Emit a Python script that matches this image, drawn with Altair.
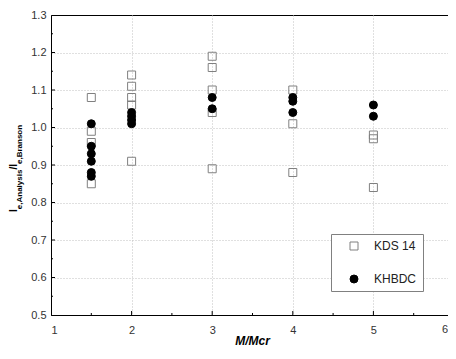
import altair as alt
import pandas as pd

# ---- data ----
kds_x = [1.5, 1.5, 1.5, 1.5,
         2, 2, 2, 2, 2,
         3, 3, 3, 3, 3,
         4, 4, 4,
         5, 5, 5]
kds_y = [1.08, 0.99, 0.96, 0.85,
         1.14, 1.11, 1.08, 1.06, 0.91,
         1.19, 1.16, 1.10, 1.04, 0.89,
         1.10, 1.01, 0.88,
         0.98, 0.97, 0.84]
khb_x = [1.5, 1.5, 1.5, 1.5, 1.5, 1.5,
         2, 2, 2, 2,
         3, 3,
         4, 4, 4,
         5, 5]
khb_y = [1.01, 0.95, 0.93, 0.91, 0.88, 0.87,
         1.04, 1.03, 1.02, 1.01,
         1.08, 1.05,
         1.08, 1.07, 1.04,
         1.06, 1.03]
series = ["KDS 14", "KHBDC"]

x_labels = [1, 2, 3, 4, 5]
x_last_label = "6"
y_labels = [0.5, 0.6, 0.7, 0.8, 0.9, 1.0, 1.1, 1.2, 1.3]
x_major = [2, 3, 4, 5]
x_minor = [1.5, 2.5, 3.5, 4.5, 5.5]
y_major = [0.6, 0.7, 0.8, 0.9, 1.0, 1.1, 1.2]
y_minor = [0.55, 0.65, 0.75, 0.85, 0.95, 1.05, 1.15, 1.25]
x_title = "M/Mcr"

df = pd.DataFrame({
    "x": kds_x + khb_x,
    "y": kds_y + khb_y,
    "s": [series[0]] * len(kds_x) + [series[1]] * len(khb_x),
})

FONT = "Liberation Sans"
FULL_W = 403          # width the 1..6 range spans
W, H = 397, 300       # visible plot area (the page is 440px wide)

xscale = alt.Scale(domain=[1, 6], range=[0, FULL_W], nice=False, zero=False)
yscale = alt.Scale(domain=[0.5, 1.3], nice=False, zero=False)
xaxis = alt.Axis(values=x_labels, format="d", title=None, ticks=False,
                 labelPadding=9,
                 gridOpacity=alt.condition("datum.value <= 1", alt.value(0), alt.value(1)))
yaxis = alt.Axis(values=y_labels, format=".1f", title=None, ticks=False,
                 labelPadding=5,
                 gridOpacity=alt.condition("datum.value >= 1.29 || datum.value <= 0.51",
                                           alt.value(0), alt.value(1)))

LEXPR = "datum.label + '\u00a0\u00a0\u00a0\u00a0\u00a0\u00a0\u00a0\u00a0'"
leg = alt.Legend(title=None, labelExpr=LEXPR)

pts = alt.Chart(df).mark_point(opacity=1, fillOpacity=1, strokeWidth=1, size=64).encode(
    x=alt.X("x:Q", scale=xscale, axis=xaxis),
    y=alt.Y("y:Q", scale=yscale, axis=yaxis),
    shape=alt.Shape("s:N", scale=alt.Scale(domain=series, range=["square", "circle"]),
                    legend=leg),
    fill=alt.Fill("s:N", scale=alt.Scale(domain=series, range=["transparent", "black"]),
                  legend=leg),
    stroke=alt.Stroke("s:N", scale=alt.Scale(domain=series, range=["#808080", "black"]),
                      legend=leg),
    order=alt.Order("s:N"),
)

def xticks(vals, length):
    d = pd.DataFrame({"x": vals})
    return alt.Chart(d).mark_rule(color="black", strokeWidth=1).encode(
        x=alt.X("x:Q", scale=xscale, axis=xaxis),
        y=alt.value(H), y2=alt.value(H - length))

def yticks(vals, length):
    d = pd.DataFrame({"y": vals})
    return alt.Chart(d).mark_rule(color="black", strokeWidth=1).encode(
        y=alt.Y("y:Q", scale=yscale, axis=yaxis),
        x=alt.value(0), x2=alt.value(length))

one = pd.DataFrame({"k": [0]})

def label(txt, x, y, size, angle=270, align="left", style="normal",
          weight="bold", baseline="alphabetic", color="black"):
    return alt.Chart(one).mark_text(
        angle=angle, align=align, baseline=baseline, font=FONT,
        fontSize=size, fontWeight=weight, fontStyle=style, color=color
    ).encode(x=alt.value(x), y=alt.value(y), text=alt.value(txt))

ymain_x, ysub_x = -34, -29.5
title_layers = [
    label("I", ymain_x, 197, 10),
    label("e,Analysis", ysub_x, 194.2, 8),
    label("/I", ymain_x, 154.6, 10),
    label("e,Branson", ysub_x, 149, 8),
    label(x_title, FULL_W / 2, 330, 12, angle=0, align="center", style="italic"),
    label(x_last_label, W, H + 9, 11, angle=0, align="right", weight="normal",
          baseline="top", color="#333333"),
]

chart = alt.layer(
    xticks(x_major, 4), xticks(x_minor, 2),
    yticks(y_major, 4), yticks(y_minor, 2),
    pts, *title_layers
).properties(
    width=W, height=H,
    autosize=alt.AutoSizeParams(type="none"),
    padding={"left": 43, "top": 7, "right": 0, "bottom": 33},
).configure_view(
    stroke="black", strokeWidth=1
).configure_axis(
    labelFont=FONT, titleFont=FONT, labelFontSize=11, labelColor="#333333",
    domainColor="black", domainWidth=1,
    grid=True, gridColor="#c0c0c0", gridDash=[1, 2], gridWidth=1,
).configure_legend(
    orient="none", legendX=280, legendY=219,
    fillColor="white", strokeColor="#808080", padding=6,
    symbolOffset=11, labelOffset=14, rowPadding=21,
    symbolSize=64, symbolStrokeWidth=1,
    labelFont=FONT, labelFontSize=12, labelColor="#222222",
)

chart.save("out.html", embed_options={"renderer": "svg", "actions": False})
